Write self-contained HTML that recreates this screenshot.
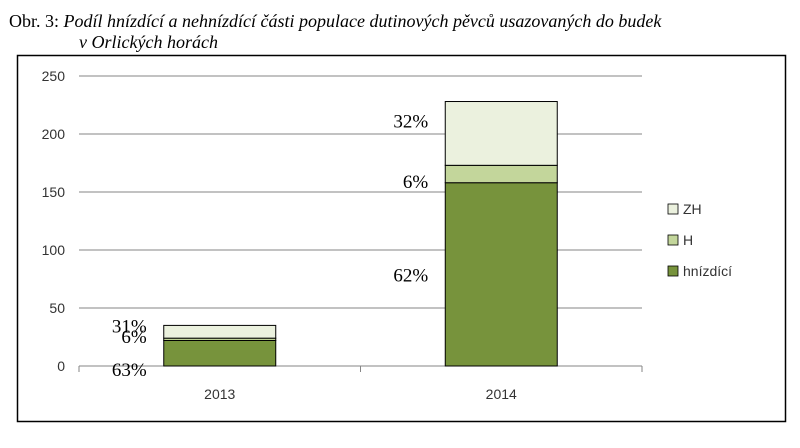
<!DOCTYPE html>
<html><head><meta charset="utf-8"><style>
body{margin:0;background:#fff;width:800px;height:448px;overflow:hidden}
svg{display:block}
.ax{font-family:"Liberation Sans",sans-serif;font-size:14px;fill:#333}
.pc{font-family:"Liberation Serif",serif;font-size:19px;fill:#000}
.ti{font-family:"Liberation Serif",serif;font-size:18px;fill:#000}
</style></head><body>
<svg id="c" width="800" height="448">
<text class="ti" x="9" y="27">Obr. 3: <tspan font-style="italic">Podíl hnízdící a nehnízdící části populace dutinových pěvců usazovaných do budek</tspan></text>
<text class="ti" x="79" y="48" font-style="italic">v Orlických horách</text>
<rect x="17.5" y="55.5" width="768" height="366" fill="none" stroke="#000" stroke-width="1.5"/>
<g id="g"></g>
</svg>
<script>
const categories=["2013","2014"];
const nesting=[22,158];
const hVals=[2,15];
const zhVals=[11,55];
const pctNest=["63%","62%"];
const pctH=["6%","6%"];
const pctZH=["31%","32%"];
const yTicks=[0,50,100,150,200,250];
const seriesNames=["ZH","H","hnízdící"];
const colors={"ZH":"#ebf1de","H":"#c3d69b","hnízdící":"#77933c"};
const NS="http://www.w3.org/2000/svg";
const g=document.getElementById('g');
const x0=79,x1=642,y0=366,yTop=76,yMax=250;
const y=v=>y0-(v/yMax)*(y0-yTop);
const bw=(x1-x0)/categories.length;
const cx=i=>x0+bw*(i+0.5);
function mk(t,a){const e=document.createElementNS(NS,t);for(const k in a)e.setAttribute(k,a[k]);g.appendChild(e);return e;}
yTicks.forEach(t=>{
 const l=mk('line',{x1:x0,x2:x1,y1:y(t),y2:y(t),stroke:'#868686','stroke-width':1});
 
 
 const tx=mk('text',{x:x0-14,y:y(t)+5,'text-anchor':'end',class:'ax'});tx.textContent=t;
 
 
});
const ax=mk('line',{x1:x0,x2:x0,y1:y0,y2:y0+6,stroke:'#868686'});


for(let i=0;i<=categories.length;i++){const t=mk('line',{x1:x0+bw*i,x2:x0+bw*i,y1:y0,y2:y0+6,stroke:'#868686'});
 
 }
categories.forEach((c,i)=>{
 const w=112,bx=cx(i)-w/2;
 const segs=[[0,nesting[i],'hnízdící'],[nesting[i],nesting[i]+hVals[i],'H'],[nesting[i]+hVals[i],nesting[i]+hVals[i]+zhVals[i],'ZH']];
 segs.forEach(s=>{const r=mk('rect',{x:bx,y:y(s[1]),width:w,height:y(s[0])-y(s[1]),fill:colors[s[2]],stroke:'#000','stroke-width':1});
  
  });
 const tx=mk('text',{x:cx(i),y:y0+33,'text-anchor':'middle',class:'ax'});tx.textContent=c;
 
 
 let py;
 if(i===0){py=[y(0)+10,y(nesting[i]+hVals[i])+5,y(nesting[i]+hVals[i]+zhVals[i])+7];}
 else{py=[y(nesting[i]/2)+7,y(nesting[i]+hVals[i]/2)+14,y(nesting[i]+hVals[i]+zhVals[i])+26];}
 [[pctNest[i],py[0],'nest'],[pctH[i],py[1],'h'],[pctZH[i],py[2],'zh']].forEach(p=>{
  const t=mk('text',{x:bx-17,y:p[1],'text-anchor':'end',class:'pc'});t.textContent=p[0];
  
  });
});
seriesNames.forEach((n,k)=>{
 const ly=209+k*31;
 const r=mk('rect',{x:668,y:ly-5,width:10,height:10,fill:colors[n],stroke:'#000','stroke-width':0.8});
 
 
 const t=mk('text',{x:683,y:ly+5,class:'ax'});t.textContent=n;
 
 
});
</script>
</body></html>
